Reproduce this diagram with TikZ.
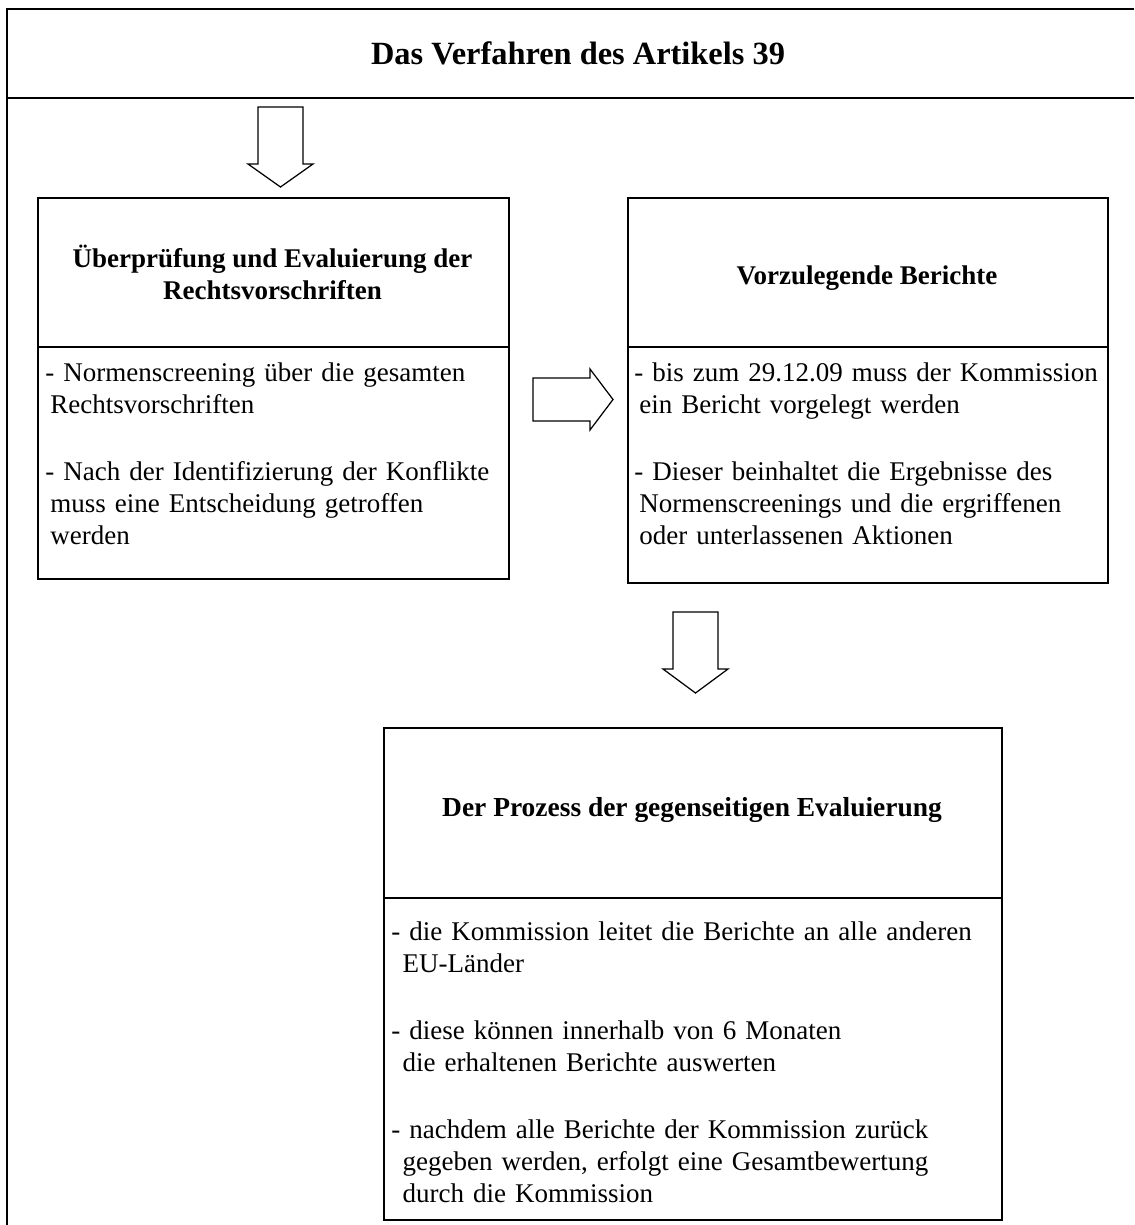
\documentclass[tikz,border=0pt]{standalone}
\usepackage{fontspec}
\setmainfont{Liberation Serif}
\begin{document}
\begin{tikzpicture}[x=0.44444pt,y=-0.44444pt,
  frameline/.style={line width=0.7pt},
  panel/.style={draw, line width=0.7pt, inner sep=0pt, anchor=north west},
  blockarrow/.style={draw, line width=0.55pt, fill=white, line join=miter},
  titletext/.style={font=\fontsize{14.4pt}{16pt}\selectfont\bfseries, inner sep=0pt},
  headtext/.style={font=\fontsize{12pt}{14.2pt}\selectfont\bfseries, align=center, inner sep=0pt},
  bodytext/.style={font=\fontsize{12pt}{14.4pt}\selectfont, align=left, inner sep=0pt,
    anchor=base west, text width=260pt}
]
\useasboundingbox (0,0) rectangle (1134,1225);

% outer frame with title band
\draw[frameline] (1134,9) -- (7,9) -- (7,1225);
\draw[frameline] (7,98) -- (1134,98);
\node[titletext] (title) at (578,53) {Das Verfahren des Artikels 39};

% three panels
\node[panel, minimum width=209.33pt, minimum height=169.33pt] (b1) at (37,197) {};
\node[panel, minimum width=213.33pt, minimum height=171.11pt] (b2) at (627,197) {};
\node[panel, minimum width=274.67pt, minimum height=218.67pt] (b3) at (383,727) {};

% header dividers
\draw[frameline] (37,347) -- (508,347);
\draw[frameline] (627,347) -- (1107,347);
\draw[frameline] (383,898) -- (1001,898);

% block arrows
\draw[blockarrow] (258,107) -- (303,107) -- (303,164) -- (313,164) -- (280.5,187)
  -- (248,164) -- (258,164) -- cycle;
\draw[blockarrow] (533,378) -- (590,378) -- (590,369) -- (613,399.5) -- (590,430)
  -- (590,421) -- (533,421) -- cycle;
\draw[blockarrow] (673,612) -- (718,612) -- (718,669) -- (728,669) -- (695.5,693)
  -- (663,669) -- (673,669) -- cycle;

% panel headings
\node[headtext] (h1) at (272.5,272) {Überprüfung und Evaluierung der\\Rechtsvorschriften};
\node[headtext] (h2) at (867,278) {Vorzulegende Berichte};
\node[headtext, font=\fontsize{12.2pt}{14.2pt}\selectfont\bfseries] (h3) at (692,810)
  {Der Prozess der gegenseitigen Evaluierung};

% panel contents
\node[bodytext] (t1) at (45,381) {- Normenscreening über die gesamten\\
\hspace*{2.2pt}Rechtsvorschriften\\[15.2pt]
- Nach der Identifizierung der Konflikte\\
\hspace*{2.2pt}muss eine Entscheidung getroffen\\
\hspace*{2.2pt}werden};

\node[bodytext] (t2) at (634,381) {- bis zum 29.12.09 muss der Kommission\\
\hspace*{2.2pt}ein Bericht vorgelegt werden\\[15.2pt]
- Dieser beinhaltet die Ergebnisse des\\
\hspace*{2.2pt}Normenscreenings und die ergriffenen\\
\hspace*{2.2pt}oder unterlassenen Aktionen};

\node[bodytext] (t3) at (391,940) {- die Kommission leitet die Berichte an alle anderen\\
\hspace*{5pt}EU-Länder\\[15.2pt]
- diese können innerhalb von 6 Monaten\\
\hspace*{5pt}die erhaltenen Berichte auswerten\\[15.2pt]
- nachdem alle Berichte der Kommission zurück\\
\hspace*{5pt}gegeben werden, erfolgt eine Gesamtbewertung\\
\hspace*{5pt}durch die Kommission};
\end{tikzpicture}
\end{document}
